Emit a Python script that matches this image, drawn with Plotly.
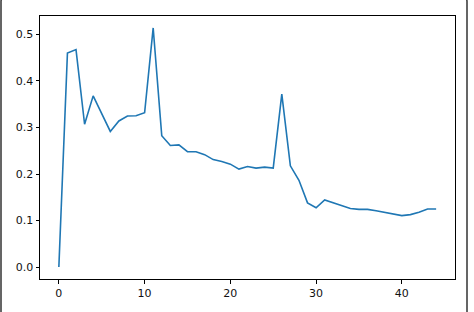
import plotly.graph_objects as go

x_values = list(range(45))
y_values = [0.0, 0.460, 0.4676, 0.307, 0.368, 0.330, 0.2916, 0.314, 0.3247, 0.3254,
            0.3317, 0.514, 0.2824, 0.2613, 0.2627, 0.2479, 0.2479, 0.2416, 0.231, 0.2268,
            0.2212, 0.2106, 0.216, 0.2127, 0.2148, 0.2127, 0.3719, 0.2176, 0.1866, 0.138,
            0.1274, 0.1443, 0.138, 0.1324, 0.126, 0.124, 0.124, 0.121, 0.118, 0.1148,
            0.1106, 0.1127, 0.1176, 0.1247, 0.1247]
x_ticks = [0, 10, 20, 30, 40]
y_ticks = [0.0, 0.1, 0.2, 0.3, 0.4, 0.5]
y_tick_labels = ["0.0", "0.1", "0.2", "0.3", "0.4", "0.5"]

fig = go.Figure()
fig.add_trace(go.Scatter(x=x_values, y=y_values, mode="lines",
                         line=dict(color="#1f77b4", width=1.6), showlegend=False))

axis_common = dict(showgrid=False, zeroline=False, showline=True, linecolor="black",
                   linewidth=1, mirror=True, ticks="outside", ticklen=3.5, tickwidth=0.8,
                   tickcolor="black", tickfont=dict(family="DejaVu Sans", size=11, color="#111111"))

fig.update_xaxes(range=[-2.2, 46.2], tickvals=x_ticks, **axis_common)
fig.update_yaxes(range=[-0.0257, 0.5397], tickvals=y_ticks, ticktext=y_tick_labels, **axis_common)

# rounded outer frame (pixel coordinates relative to plot-area bottom-left)
L, R, T, B, r = -39.0, 427.0, 281.5, -40.0, 4.0
path = (f"M {L},{B} L {L},{T - r} Q {L},{T} {L + r},{T} "
        f"L {R - r},{T} Q {R},{T} {R},{T - r} L {R},{B}")
fig.add_shape(type="path", path=path, xref="paper", yref="paper",
              xsizemode="pixel", ysizemode="pixel", xanchor=0, yanchor=0,
              line=dict(color="#333333", width=1.5), layer="above")

fig.update_layout(width=474, height=312, margin=dict(l=40, r=19, t=16, b=29),
                  paper_bgcolor="white", plot_bgcolor="white")

fig.write_html("out.html")
